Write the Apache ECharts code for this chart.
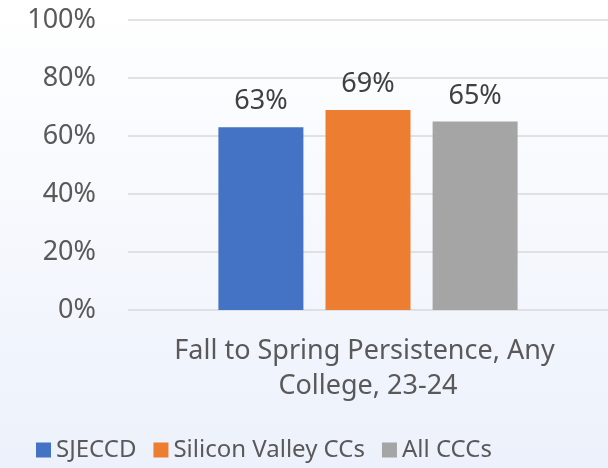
<!DOCTYPE html>
<html>
<head>
<meta charset="utf-8">
<script src="https://cdn.jsdelivr.net/npm/echarts@6/dist/echarts.min.js"></script>
<style>
html,body{margin:0;padding:0;}
#chart{width:608px;height:468px;}
</style>
</head>
<body>
<div id="chart"></div>
<script>
var categories = ['Fall to Spring Persistence, Any College, 23-24'];
var seriesNames = ['SJECCD', 'Silicon Valley CCs', 'All CCCs'];
var seriesValues = [[63], [69], [65]];
var seriesColors = ['#4472c4', '#ed7d31', '#a5a5a5'];
var yTicks = [0, 20, 40, 60, 80, 100];

var chart = echarts.init(document.getElementById('chart'));
var font = '"Noto Sans", sans-serif';

var series = [];
for (var i = 0; i < seriesNames.length; i++) {
	series.push({
		name: seriesNames[i],
		type: 'bar',
		barWidth: 85,
		barGap: '26%',
		itemStyle: { color: seriesColors[i] },
		label: {
			show: true,
			position: 'top',
			distance: 12,
			formatter: '{c}%',
			color: '#404040',
			fontSize: 27,
			fontFamily: font
		},
		data: seriesValues[i]
	});
}

var option = {
	backgroundColor: {
		type: 'linear', x: 0, y: 0, x2: 0, y2: 1,
		colorStops: [{ offset: 0, color: '#ffffff' }, { offset: 1, color: '#ecf1fb' }]
	},
	textStyle: { fontFamily: font },
	animation: false,
	grid: { left: 128, width: 484, top: 20, bottom: 158 },
	legend: {
		bottom: 1,
		left: 31,
		itemWidth: 15,
		itemHeight: 15,
		itemGap: 17,
		icon: 'rect',
		textStyle: { color: '#595959', fontSize: 24, fontFamily: font },
		data: seriesNames
	},
	xAxis: {
		type: 'category',
		data: categories,
		axisLine: { show: false },
		axisTick: { show: false },
		axisLabel: {
			color: '#595959',
			fontSize: 27,
			fontFamily: font,
			margin: 24,
			lineHeight: 35,
			width: 440,
			overflow: 'break'
		}
	},
	yAxis: {
		type: 'value',
		min: yTicks[0],
		max: yTicks[yTicks.length - 1],
		interval: 20,
		axisLine: { show: false },
		axisTick: { show: false },
		axisLabel: {
			formatter: '{value}%',
			color: '#595959',
			fontSize: 27,
			fontFamily: font,
			margin: 32
		},
		splitLine: { lineStyle: { color: '#d9d9d9', width: 1.5 } }
	},
	series: series
};
chart.setOption(option);
</script>
</body>
</html>
